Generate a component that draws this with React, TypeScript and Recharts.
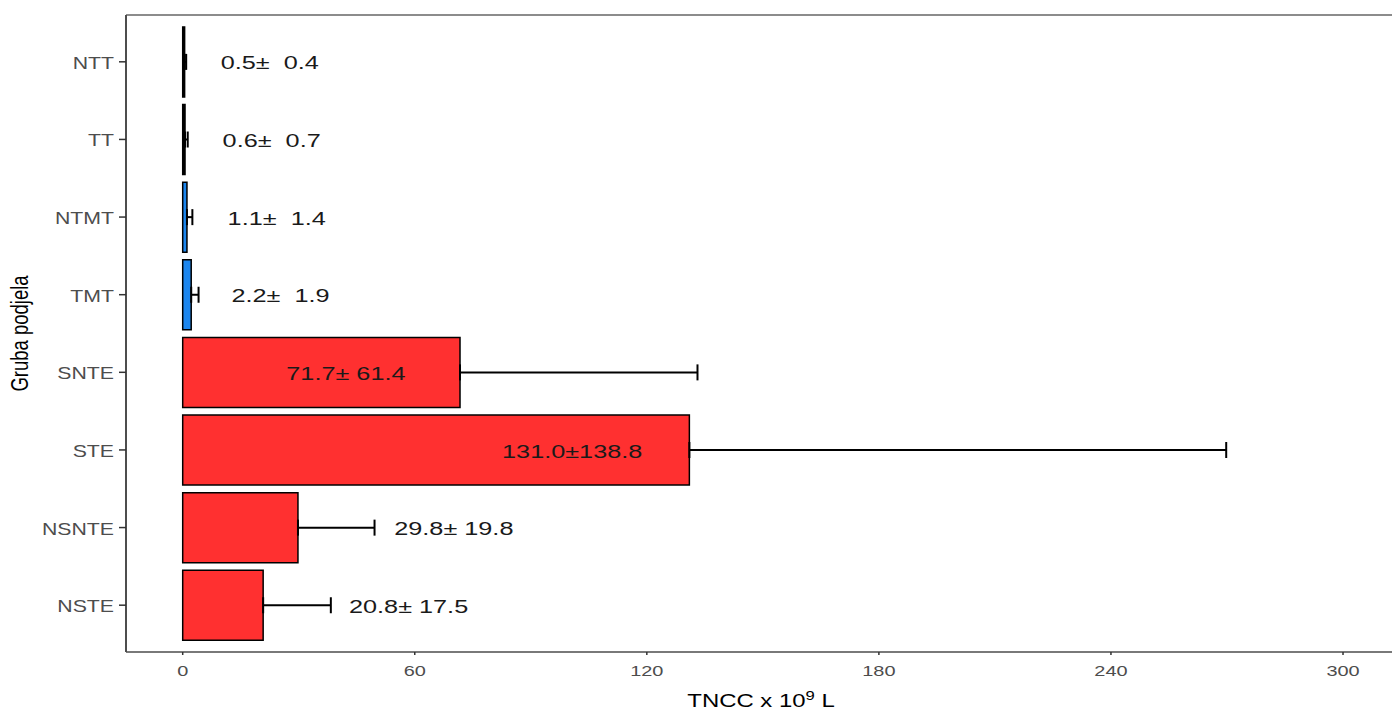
import React from 'react';
import { BarChart, Bar, XAxis, YAxis, Cell, ErrorBar, LabelList } from 'recharts';

// groups top to bottom
const groups = ['NTT', 'TT', 'NTMT', 'TMT', 'SNTE', 'STE', 'NSNTE', 'NSTE'];
const means = [0.5, 0.6, 1.1, 2.2, 71.7, 131.0, 29.8, 20.8];
const sds = [0.4, 0.7, 1.4, 1.9, 61.4, 138.8, 19.8, 17.5];
const barColors = ['#000000', '#000000', '#1C86EE', '#1C86EE', '#FF3030', '#FF3030', '#FF3030', '#FF3030'];
// x position (data units) of the centre of each "mean ± sd" text
const labelPos = [22.5, 23.0, 24.3, 25.3, 42.2, 100.7, 70.1, 58.4];
const xTicks = [0, 60, 120, 180, 240, 300];

const labels = means.map((m, i) => `${m.toFixed(1)}±${sds[i].toFixed(1).padStart(5, ' ')}`);

const data = groups.map((g, i) => ({
  group: g,
  mean: means[i],
  err: [0, sds[i]],
  label: labels[i],
}));

const SX = 1.33; // the picture is stretched sideways
const FONT = '"Liberation Sans", Arial, sans-serif';
const X_DOMAIN: [number, number] = [-14.66, 313.7];

function YTick(props: any) {
  const { x, y, payload } = props;
  return (
    <text transform={`translate(${x},${y + 7}) scale(${SX},1)`} textAnchor="end" fontSize={16} fill="#4d4d4d" fontFamily={FONT}>
      {payload.value}
    </text>
  );
}

function XTick(props: any) {
  const { x, y, payload } = props;
  return (
    <text transform={`translate(${x},${y + 19}) scale(${SX},1)`} textAnchor="middle" fontSize={15} fill="#4d4d4d" fontFamily={FONT}>
      {payload.value}
    </text>
  );
}

function valueLabel(props: any) {
  const vb = props.viewBox || {};
  const x = props.x ?? vb.x;
  const y = props.y ?? vb.y;
  const width = props.width ?? vb.width;
  const height = props.height ?? vb.height;
  let i = props.index;
  if (i == null || labels[i] !== props.value) i = labels.indexOf(props.value);
  if (i < 0) return null;
  const pxPerUnit = width / means[i];
  const cx = x + labelPos[i] * pxPerUnit;
  const cy = y + height / 2;
  return (
    <text
      transform={`translate(${cx},${cy + 7.5}) scale(${SX},1)`}
      textAnchor="middle"
      fontSize={19}
      fill="#1a1a1a"
      fontFamily={FONT}
      style={{ whiteSpace: 'pre' }}
    >
      {labels[i]}
    </text>
  );
}

function XTitle(props: any) {
  const vb = props.viewBox;
  const cx = vb.x + vb.width / 2;
  return (
    <text transform={`translate(${cx},${vb.y + 55}) scale(${SX},1)`} textAnchor="middle" fontSize={18} fill="#000" fontFamily={FONT}>
      <tspan>TNCC x 10</tspan>
      <tspan dy={-7} fontSize={12.5}>9</tspan>
      <tspan dy={7}> L</tspan>
    </text>
  );
}

function YTitle(props: any) {
  const vb = props.viewBox;
  const cy = vb.y + vb.height / 2;
  return (
    <text transform={`translate(28,${cy}) scale(${SX},1) rotate(-90)`} textAnchor="middle" fontSize={18.5} fill="#000" fontFamily={FONT}>
      Gruba podjela
    </text>
  );
}

export default function App() {
  return (
    <div style={{ position: 'fixed', left: 0, top: 0, width: 1392, height: 711, overflow: 'hidden', background: '#fff' }}>
      <BarChart
        width={1400}
        height={711}
        data={data}
        layout="vertical"
        margin={{ top: 14, right: 4, bottom: 0, left: 0 }}
        barCategoryGap="5%"
      >
        <XAxis
          type="number"
          domain={X_DOMAIN}
          allowDataOverflow
          ticks={xTicks}
          height={59}
          stroke="#4d4d4d"
          axisLine={{ stroke: '#4d4d4d', strokeWidth: 1.6 }}
          tickLine={{ stroke: '#333', strokeWidth: 1.5 }}
          tickSize={3}
          tickMargin={2}
          tick={<XTick />}
          label={{ content: XTitle }}
        />
        {/* top panel border */}
        <XAxis
          xAxisId="top"
          orientation="top"
          type="number"
          domain={X_DOMAIN}
          allowDataOverflow
          height={1}
          tick={false}
          tickLine={false}
          axisLine={{ stroke: '#666', strokeWidth: 1.6 }}
        />
        <YAxis
          type="category"
          dataKey="group"
          width={126}
          padding={{ top: 8, bottom: 8 }}
          axisLine={{ stroke: '#4d4d4d', strokeWidth: 2 }}
          tickLine={{ stroke: '#333', strokeWidth: 1.5 }}
          tickSize={7}
          tickMargin={5}
          tick={<YTick />}
          label={{ content: YTitle }}
        />
        <Bar dataKey="mean" stroke="#000" strokeWidth={1.5} isAnimationActive={false}>
          {data.map((d, i) => (
            <Cell key={d.group} fill={barColors[i]} />
          ))}
          <ErrorBar dataKey="err" direction="x" width={8} stroke="#000" strokeWidth={2} isAnimationActive={false} />
          <LabelList dataKey="label" content={valueLabel} />
        </Bar>
      </BarChart>
    </div>
  );
}
